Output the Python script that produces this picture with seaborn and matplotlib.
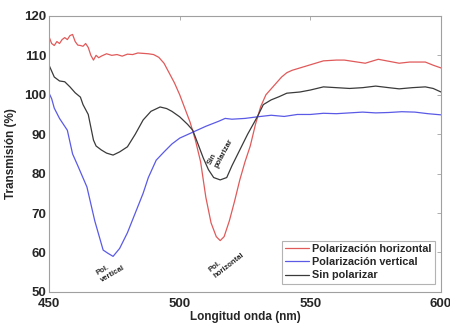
import matplotlib
matplotlib.use("Agg")
import matplotlib.pyplot as plt
import pandas as pd
import seaborn as sns

# Polarización horizontal (red)
horiz_nm = [450, 451, 452, 453, 454, 455, 456, 457, 458, 459, 460, 461, 462, 463, 464, 465,
            466, 467, 468, 469, 470, 472, 474, 476, 478, 480, 482, 484, 486, 488, 490, 492,
            494, 496, 498, 500, 502, 504, 506, 508, 510, 512, 514, 515.5, 517, 519, 521, 523,
            525, 527, 529, 531, 533, 535, 537, 539, 541, 543, 546, 550, 555, 560, 563, 567,
            571, 576, 580, 584, 588, 594, 597, 600]
horiz_t = [114.7, 113, 112.5, 113.5, 113, 114, 114.5, 114, 115, 115.3, 113.5, 112.6, 112.5, 112.3,
           113, 112, 110, 108.8, 110, 109.4, 109.8, 110.4, 110, 110.2, 109.8, 110.3, 110.2, 110.6,
           110.5, 110.4, 110.2, 109.5, 108, 105.5, 103, 100, 96.5, 93, 88.5, 83, 74, 67.5, 64, 63,
           64, 68, 73, 78.4, 83, 87, 92.5, 97, 100, 101.5, 103, 104.5, 105.6, 106.2, 106.8, 107.6,
           108.6, 108.8, 108.8, 108.4, 108, 109, 108.5, 108, 108.3, 108.3, 107.5, 106.8]

# Polarización vertical (blue)
vert_nm = [450, 451, 452, 454, 457, 459, 461, 464.5, 467.5, 470.7, 472.5, 474.5, 477, 480, 483,
           486, 488, 491, 494, 497, 500, 505, 510, 515, 517.4, 520, 525, 529.7, 535, 540, 545,
           550, 555, 560, 565, 570, 575, 580, 585, 590, 595, 600]
vert_t = [100.4, 99, 96.6, 94, 91, 85, 82, 76.6, 68, 60.6, 59.8, 59, 61, 65, 70, 75, 79, 83.4,
          85.5, 87.5, 89, 90.5, 92, 93.3, 94, 93.8, 94, 94.4, 94.8, 94.5, 95, 95, 95.3, 95.2,
          95.4, 95.6, 95.4, 95.5, 95.7, 95.6, 95.2, 94.9]

# Sin polarizar (black)
nopol_nm = [450, 451, 452, 453, 454, 456, 458, 460, 462, 463, 465, 467, 468, 470, 472, 474.5,
            477, 480, 483, 486, 489, 492.5, 495, 497, 500, 503, 505, 507, 509, 511, 513, 515.5,
            518, 520, 523, 526, 529.7, 532, 535, 538, 541, 546, 550, 555, 560, 565, 570, 575,
            580, 584, 589, 594, 597, 600]
nopol_t = [107.5, 106, 104.5, 104, 103.5, 103.3, 102, 100.5, 99.4, 97.5, 95, 88.5, 87, 86, 85.2,
           84.7, 85.5, 86.8, 90, 93.6, 95.8, 96.9, 96.5, 95.8, 94.4, 92.5, 91, 87.5, 84, 81, 79,
           78.4, 79, 82, 86, 90, 94.4, 97.5, 98.7, 99.5, 100.4, 100.7, 101.2, 102, 101.8, 101.6,
           101.8, 102.2, 101.8, 101.5, 101.8, 102, 101.6, 100.7]

series_names = ["Polarización horizontal", "Polarización vertical", "Sin polarizar"]
series_colors = ["#e05a5a", "#5a5ae6", "#3a3a3a"]

df = pd.concat([
    pd.DataFrame({"nm": horiz_nm, "t": horiz_t, "serie": series_names[0]}),
    pd.DataFrame({"nm": vert_nm, "t": vert_t, "serie": series_names[1]}),
    pd.DataFrame({"nm": nopol_nm, "t": nopol_t, "serie": series_names[2]}),
])

sns.set_style("white")
plt.rcParams["font.family"] = ["Liberation Sans", "DejaVu Sans"]

fig = plt.figure(figsize=(4.5, 3.25), dpi=100)
ax = fig.add_axes([0.109, 0.102, 0.871, 0.849])

sns.lineplot(data=df, x="nm", y="t", hue="serie", hue_order=series_names,
             palette=dict(zip(series_names, series_colors)), linewidth=0.9,
             sort=False, estimator=None, ax=ax)

ax.set_xlim(450, 600)
ax.set_ylim(50, 120)
ax.set_xticks([450, 500, 550, 600])
ax.set_yticks(range(50, 121, 10))
ax.tick_params(direction="in", length=3, width=0.6, colors="#a0a0a0",
               labelcolor="#262626", labelsize=9.5, top=True, right=True,
               labeltop=False, labelright=False, pad=2)
ax.tick_params(axis="x", pad=4.5)
for lbl in ax.get_xticklabels() + ax.get_yticklabels():
    lbl.set_fontweight("bold")
for sp in ax.spines.values():
    sp.set_color("#a0a0a0")
    sp.set_linewidth(0.8)

ax.set_xlabel("Longitud onda (nm)", fontsize=8.5, fontweight="bold", color="#262626", labelpad=1)
ax.set_ylabel("Transmisión (%)", fontsize=8.5, fontweight="bold", color="#262626", labelpad=5)

ann = dict(fontsize=5.5, fontweight="bold", color="#262626", ha="center", va="center",
           multialignment="left")
ax.text(473.5, 55.5, "Pol.\nvertical", rotation=30, **ann)
ax.text(518, 57.5, "Pol.\nhorizontal", rotation=38, **ann)
ax.text(515.5, 85.5, "Sin\npolarizar", rotation=62, **ann)

leg = ax.legend(loc="lower right", bbox_to_anchor=(0.985, 0.03), fontsize=7.8,
                frameon=True, fancybox=False, handlelength=2.2, handletextpad=0.3,
                borderpad=0.3, labelspacing=0.3, borderaxespad=0)
leg.get_frame().set_edgecolor("#a0a0a0")
leg.get_frame().set_linewidth(0.8)
for t in leg.get_texts():
    t.set_fontweight("bold")
    t.set_color("#262626")

fig.savefig("out.png", dpi=100)
